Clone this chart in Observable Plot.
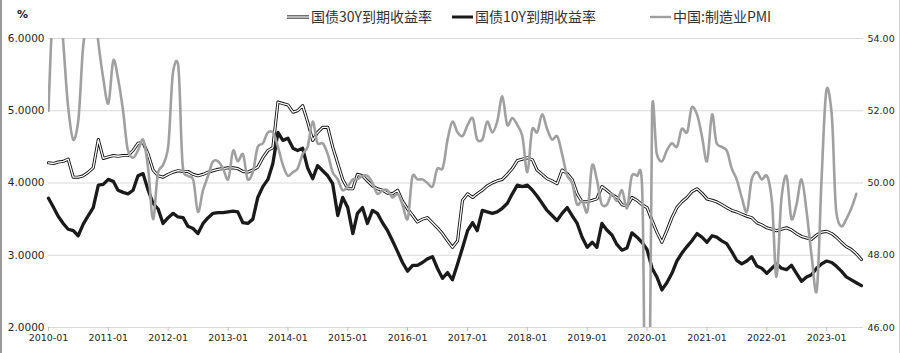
<!DOCTYPE html>
<html><head><meta charset="utf-8">
<script src="https://cdn.jsdelivr.net/npm/d3@7"></script>
<script src="https://cdn.jsdelivr.net/npm/@observablehq/plot@0.6"></script>
<style>
html,body{margin:0;padding:0;background:#fff;}
#wrap{position:relative;width:900px;height:353px;overflow:hidden;background:#fff;}
#wrap .bl{position:absolute;left:0;top:0;bottom:0;width:2px;background:#9a9a9a;}
#wrap .br{position:absolute;right:0;top:0;bottom:0;width:1px;background:#d0d0d0;}
.leg{position:absolute;top:6px;height:20px;line-height:20px;font-family:"Noto Sans CJK SC","Noto Sans",sans-serif;font-size:14px;color:#333;white-space:nowrap;}
.leg svg{vertical-align:middle;margin-right:2px;position:relative;top:-1px;}
.pct{position:absolute;left:17px;top:8px;font-family:"DejaVu Sans",sans-serif;font-weight:bold;font-size:11px;color:#222;}
#chart{position:absolute;left:0;top:0;}
</style></head>
<body>
<div id="wrap">
  <div id="chart"></div>
  <div class="bl"></div><div class="br"></div>
  <div class="pct">%</div>
  <div class="leg" style="left:287px"><svg width="22" height="8"><line x1="0" x2="22" y1="4" y2="4" stroke="#111" stroke-width="3.2"/><line x1="0" x2="22" y1="4" y2="4" stroke="#fff" stroke-width="1.4"/></svg>国债30Y到期收益率</div>
  <div class="leg" style="left:452px"><svg width="21" height="8"><line x1="0" x2="21" y1="4" y2="4" stroke="#1a1a1a" stroke-width="3"/></svg>国债10Y到期收益率</div>
  <div class="leg" style="left:650px"><svg width="21" height="8"><line x1="0" x2="21" y1="4" y2="4" stroke="#a0a0a0" stroke-width="2.4"/></svg>中国:制造业PMI</div>
</div>
<script>
// Monthly series, first value = 2010-01
const startMonth = "2010-01-01";
const endDate = "2023-08-14";

const yield10Y = [3.79,3.66,3.54,3.44,3.36,3.34,3.27,3.43,3.55,3.66,
 3.97,3.98,4.05,4.02,3.90,3.87,3.85,3.90,4.10,4.13,
 3.90,3.72,3.64,3.44,3.52,3.58,3.53,3.52,3.40,3.37,
 3.30,3.44,3.52,3.58,3.59,3.59,3.60,3.61,3.60,3.45,
 3.44,3.50,3.80,3.95,4.05,4.27,4.70,4.59,4.62,4.48,
 4.45,4.48,4.21,4.06,4.24,4.17,4.10,3.99,3.55,3.80,
 3.66,3.30,3.58,3.66,3.44,3.62,3.58,3.45,3.34,3.20,
 3.05,2.90,2.78,2.86,2.86,2.90,2.95,2.98,2.82,2.68,
 2.76,2.66,2.88,3.10,3.34,3.45,3.34,3.62,3.60,3.58,
 3.60,3.65,3.72,3.85,3.97,3.95,3.97,3.90,3.82,3.72,
 3.62,3.55,3.48,3.58,3.66,3.55,3.44,3.25,3.11,3.18,
 3.11,3.44,3.35,3.28,3.15,3.07,3.10,3.31,3.25,3.18,
 3.08,2.82,2.70,2.52,2.62,2.75,2.92,3.03,3.12,3.20,
 3.30,3.25,3.18,3.27,3.25,3.20,3.16,3.05,2.93,2.88,
 2.92,2.98,2.85,2.82,2.75,2.82,2.88,2.82,2.80,2.86,
 2.75,2.64,2.70,2.73,2.82,2.88,2.92,2.90,2.85,2.78,
 2.70,2.66,2.62,2.58];

const yield30Y = [4.28,4.27,4.29,4.30,4.33,4.08,4.08,4.10,4.15,4.21,
 4.60,4.34,4.36,4.38,4.37,4.38,4.38,4.45,4.55,4.56,
 4.40,4.18,4.10,4.08,4.12,4.15,4.17,4.16,4.16,4.12,
 4.10,4.12,4.15,4.17,4.19,4.20,4.21,4.21,4.20,4.16,
 4.15,4.18,4.22,4.35,4.45,4.49,5.12,5.10,5.08,4.98,
 5.00,5.07,4.85,4.59,4.70,4.77,4.77,4.50,4.27,4.05,
 3.92,3.92,4.12,4.10,4.03,3.96,3.92,3.90,3.86,3.85,
 3.90,3.75,3.64,3.55,3.46,3.50,3.52,3.45,3.38,3.30,
 3.20,3.11,3.20,3.76,3.85,3.80,3.85,3.90,3.96,4.00,
 4.03,4.05,4.12,4.20,4.31,4.33,4.35,4.32,4.18,4.12,
 4.06,4.03,3.99,4.18,4.13,4.05,3.85,3.74,3.74,3.76,
 3.78,3.95,3.90,3.84,3.80,3.70,3.68,3.80,3.76,3.70,
 3.66,3.48,3.32,3.18,3.34,3.52,3.66,3.74,3.80,3.88,
 3.92,3.86,3.78,3.76,3.74,3.70,3.66,3.62,3.60,3.57,
 3.54,3.52,3.45,3.42,3.38,3.36,3.34,3.36,3.38,3.35,
 3.30,3.26,3.24,3.22,3.28,3.32,3.33,3.30,3.25,3.18,
 3.12,3.08,3.02,2.94];

// China manufacturing PMI, Feb 2010 .. Aug 2023 (drawn from 2010-01 on, as in the source)
const pmi = [52.0,55.1,55.7,53.9,52.1,51.2,51.7,53.8,54.7,55.2,53.9,
 52.9,52.2,53.4,52.9,52.0,50.9,50.7,50.9,51.2,50.4,49.0,50.3,
 50.5,51.0,53.1,53.3,50.4,50.2,50.1,49.2,49.8,50.2,50.6,50.6,
 50.4,50.1,50.9,50.6,50.8,50.1,50.3,51.0,51.1,51.4,51.4,51.0,
 50.5,50.2,50.3,50.4,50.8,51.0,51.7,51.1,51.1,50.8,50.3,50.1,
 49.8,49.9,50.1,50.1,50.2,50.2,50.0,49.7,49.8,49.8,49.6,49.7,
 49.4,49.0,50.2,50.1,50.1,50.0,49.9,50.4,50.4,51.2,51.7,51.4,
 51.3,51.6,51.8,51.2,51.2,51.7,51.4,51.7,52.4,51.6,51.8,51.6,
 51.3,50.3,51.5,51.4,51.9,51.5,51.2,51.3,50.8,50.2,50.0,49.4,
 49.5,49.2,50.5,50.1,49.4,49.4,49.7,49.5,49.8,49.3,50.2,50.2,
 50.0,35.7,52.0,50.8,50.6,50.9,51.1,51.0,51.5,51.4,52.1,51.9,
 51.3,50.6,51.9,51.1,51.0,50.9,50.4,50.1,49.6,49.2,50.1,50.3,
 50.1,50.2,49.5,47.4,49.6,50.2,49.0,49.4,50.1,49.2,48.0,47.0,
 50.1,52.6,51.9,49.2,48.8,49.0,49.3,49.7];

const xTickLabels = ["2010-01","2011-01","2012-01","2013-01","2014-01","2015-01","2016-01",
 "2017-01","2018-01","2019-01","2020-01","2021-01","2022-01","2023-01"];
const leftTicks = [2,3,4,5,6];
const rightTicks = [46,48,50,52,54];

const t0 = new Date(startMonth);
const monthAt = i => d3.utcMonth.offset(t0, i);
const pmiToLeft = p => 2 + (p - 46) / 2;
const leftToPmi = v => (v - 2) * 2 + 46;

const d10 = yield10Y.map((v, i) => ({date: monthAt(i), v}));
const d30 = yield30Y.map((v, i) => ({date: monthAt(i), v}));
const dPmi = pmi.map((p, i) => ({date: monthAt(i), v: pmiToLeft(p)}));

const chart = Plot.plot({
  width: 900, height: 353,
  marginLeft: 48, marginRight: 37, marginTop: 38, marginBottom: 26,
  x: {type: "utc", domain: [t0, new Date(endDate)]},
  y: {domain: [2, 6]},
  style: {fontFamily: "DejaVu Sans, sans-serif", fontSize: "10px", color: "#262626", background: "transparent"},
  marks: [
    Plot.ruleY(leftTicks, {stroke: "#d9d9d9", strokeWidth: 1.2}),
    Plot.axisY({ticks: leftTicks, tickFormat: d3.format(".4f"), tickSize: 0, tickPadding: 4, label: null, fontSize: 10.5, fill: "#262626"}),
    Plot.axisY({anchor: "right", ticks: rightTicks.map(pmiToLeft), tickFormat: d => leftToPmi(d).toFixed(2), tickSize: 0, tickPadding: 4, label: null, fontSize: 9.5, fill: "#262626"}),
    Plot.axisX({ticks: xTickLabels.map(s => new Date(s + "-01")), tickFormat: d3.utcFormat("%Y-%m"), tickSize: 4, tickPadding: 3, stroke: "#c0c0c0", fill: "#262626", label: null, fontSize: 9.5}),
    Plot.lineY(d30, {x: "date", y: "v", stroke: "#111", strokeWidth: 3.1}),
    Plot.lineY(d30, {x: "date", y: "v", stroke: "#fff", strokeWidth: 1.3}),
    Plot.lineY(d10, {x: "date", y: "v", stroke: "#1a1a1a", strokeWidth: 3.3}),
    Plot.lineY(dPmi, {x: "date", y: "v", stroke: "#a0a0a0", strokeWidth: 2.6, curve: "catmull-rom", tension: 0.2, clip: true})
  ]
});
document.getElementById("chart").appendChild(chart);
</script>
</body></html>
